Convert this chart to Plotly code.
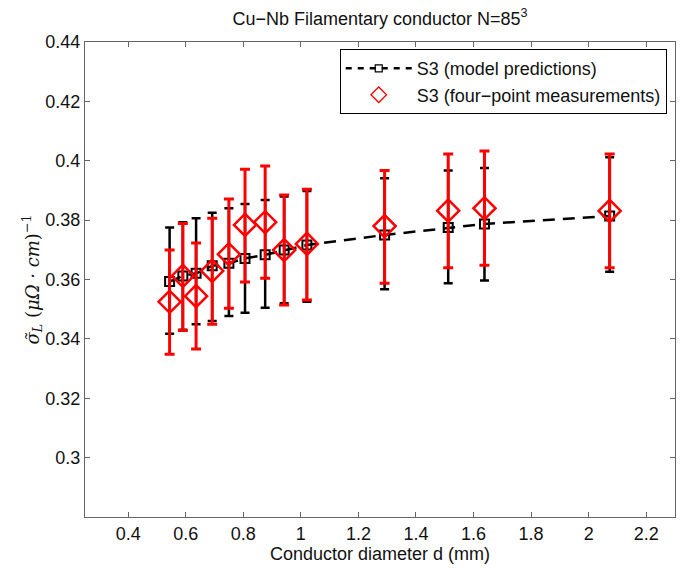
import plotly.graph_objects as go

# conductor diameters (mm)
diameter = [0.544, 0.590, 0.636, 0.692, 0.750, 0.806, 0.876, 0.942, 1.021,
            1.291, 1.512, 1.638, 2.073]

# S3 model predictions with error bounds
model = [0.3593, 0.3612, 0.3621, 0.3646, 0.3655, 0.3671, 0.3683, 0.3699, 0.3716,
         0.3750, 0.3775, 0.3787, 0.3814]
model_hi = [0.3775, 0.3793, 0.3806, 0.3825, 0.3840, 0.3854, 0.3868, 0.3880, 0.3898,
            0.3941, 0.3967, 0.3976, 0.4012]
model_lo = [0.3417, 0.3431, 0.3449, 0.3460, 0.3477, 0.3488, 0.3505, 0.3520, 0.3525,
            0.3567, 0.3587, 0.3597, 0.3626]

# S3 four-point measurements with error bounds
meas = [0.3525, 0.3612, 0.3544, 0.3629, 0.3685, 0.3784, 0.3793, 0.3699, 0.3720,
        0.3780, 0.3832, 0.3840, 0.3831]
meas_hi = [0.3699, 0.3789, 0.3723, 0.3806, 0.3871, 0.3971, 0.3982, 0.3885, 0.3904,
           0.3967, 0.4023, 0.4033, 0.4023]
meas_lo = [0.3348, 0.3428, 0.3366, 0.3449, 0.3503, 0.3592, 0.3604, 0.3514, 0.3531,
           0.3587, 0.3640, 0.3648, 0.3640]

xticks = [0.4, 0.6, 0.8, 1.0, 1.2, 1.4, 1.6, 1.8, 2.0, 2.2]
xticklabels = ["0.4", "0.6", "0.8", "1", "1.2", "1.4", "1.6", "1.8", "2", "2.2"]
yticks = [0.30, 0.32, 0.34, 0.36, 0.38, 0.40, 0.42, 0.44]
yticklabels = ["0.3", "0.32", "0.34", "0.36", "0.38", "0.4", "0.42", "0.44"]

name_model = "S3 (model predictions)"
name_meas = "S3 (four\u2212point measurements)"

font = "Liberation Sans, Arial, sans-serif"

fig = go.Figure()

fig.add_trace(go.Scatter(
    x=diameter, y=model,
    mode="lines+markers",
    showlegend=False,
    line=dict(color="black", width=2.5, dash="12px,8px"),
    marker=dict(symbol="square-open", size=9, color="black", line=dict(width=2)),
    error_y=dict(type="data", symmetric=False,
                 array=[h - m for h, m in zip(model_hi, model)],
                 arrayminus=[m - l for m, l in zip(model, model_lo)],
                 color="black", thickness=2.5, width=4.5),
))

fig.add_trace(go.Scatter(
    x=diameter, y=meas,
    mode="markers",
    showlegend=False,
    marker=dict(symbol="diamond-open", size=17, color="red", line=dict(width=2.5)),
    error_y=dict(type="data", symmetric=False,
                 array=[h - m for h, m in zip(meas_hi, meas)],
                 arrayminus=[m - l for m, l in zip(meas, meas_lo)],
                 color="red", thickness=3, width=5),
))

# legend-only entries with the smaller symbols used in the key
fig.add_trace(go.Scatter(
    x=[None], y=[None], mode="lines+markers", name=name_model,
    line=dict(color="black", width=2.5, dash="6px,6px"),
    marker=dict(symbol="square-open", size=7, color="black", line=dict(width=1.2)),
))
fig.add_trace(go.Scatter(
    x=[None], y=[None], mode="markers", name=name_meas,
    marker=dict(symbol="diamond-open", size=12, color="red", line=dict(width=1.3)),
))

axis_style = dict(
    showline=True, linecolor="#666", linewidth=1, mirror="ticks",
    ticks="inside", ticklen=5, tickcolor="#666",
    showgrid=False, zeroline=False,
    tickfont=dict(family=font, size=18, color="#111"),
)

fig.update_layout(
    width=697, height=570,
    margin=dict(l=85, r=22, t=42, b=53),
    paper_bgcolor="white", plot_bgcolor="white",
    font=dict(family=font, size=18, color="#111"),
    title=dict(text="Cu\u2212Nb Filamentary conductor N=85<sup>3</sup>",
               x=(85 + 675) / 2 / 697, xanchor="center", y=0.968, yanchor="middle",
               font=dict(family=font, size=18)),
    xaxis=dict(range=[0.25, 2.3], tickvals=xticks, ticktext=xticklabels,
               title=dict(text="Conductor diameter d (mm)", standoff=2,
                          font=dict(family=font, size=18)),
               **axis_style),
    yaxis=dict(range=[0.28, 0.44], tickvals=yticks, ticktext=yticklabels,
               title=dict(text="<i>\u03c3\u0303<sub>L</sub></i> (<i>\u03bc\u03a9 \u00b7 cm</i>)<sup>\u22121</sup>\u00a0\u00a0\u00a0\u00a0",
                          standoff=0,
                          font=dict(family="DejaVu Serif, serif", size=18)),
               **axis_style),
    legend=dict(x=0.986, y=0.985, xanchor="right", yanchor="top",
                bordercolor="black", borderwidth=1, bgcolor="white",
                itemwidth=66, font=dict(family=font, size=18),
                tracegroupgap=0),
    showlegend=True,
)

fig.write_html("out.html", config={"displayModeBar": False},
               post_script="document.body.style.margin='0';")
